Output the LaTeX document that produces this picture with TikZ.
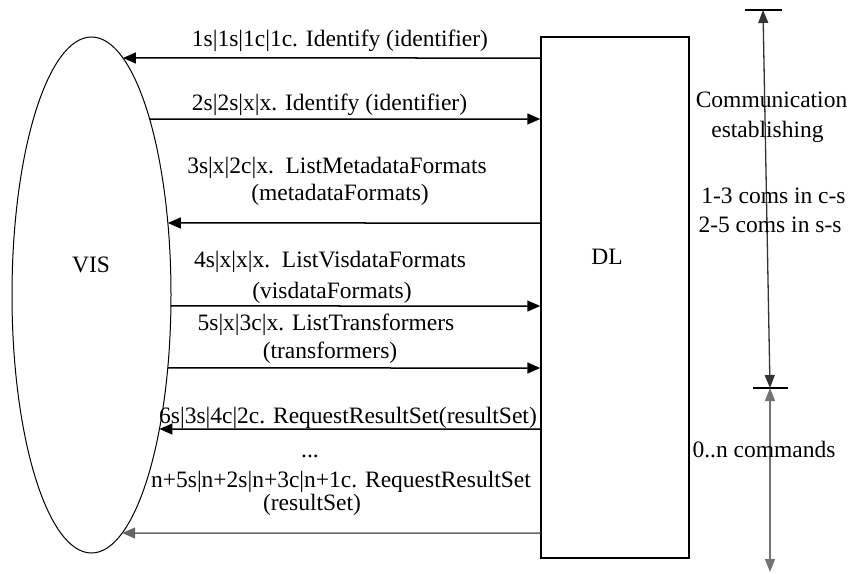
\documentclass[tikz,border=0pt]{standalone}
\usepackage{fontspec}
\setmainfont{Liberation Serif}
\usetikzlibrary{shapes.geometric,arrows.meta,intersections}

\begin{document}
\begin{tikzpicture}[x=1pt,y=-1pt,
  every node/.style={font=\fontsize{23.5}{27}\selectfont, inner sep=0pt},
  msg/.style={line width=1.5pt, -{Triangle[length=13pt,width=11pt]}},
  span/.style={line width=1.3pt, {Triangle[length=13pt,width=10pt]}-{Triangle[length=13pt,width=10pt]}},
  lbl/.style={anchor=base},
  bar/.style={line width=1.4pt}]
\useasboundingbox (0,0) rectangle (851,573);

% the two parties
\node[ellipse, draw, line width=1pt, minimum width=159pt, minimum height=516pt,
      name path=visborder] (vis) at (91.5,295) {};
\node[lbl] (vistext) at (91,272) {VIS};
\node[draw, line width=1.5pt, minimum width=148pt, minimum height=521pt] (dl) at (615,297.5) {};
\node[lbl] (dltext) at (607,264) {DL};

% message levels
\foreach \i/\y in {1/58,2/119,3/223,4/306,5/368,6/429,7/533}{
  \coordinate (y\i) at (0,\y);
  \path[name path=h\i] (vis.center |- y\i) -- (dl.west |- y\i);
  \path[name intersections={of=visborder and h\i, by=e\i}];
  \coordinate (d\i) at (dl.west |- y\i);
}

% messages
\draw[msg] (d1) -- (e1);
\draw[msg] (e2) -- (d2);
\draw[msg] (d3) -- (e3);
\draw[msg] (e4) -- (d4);
\draw[msg] (e5) -- (d5);
\draw[msg] (d6) -- (e6);
\draw[msg, draw=black!60] (d7) -- (e7);

% message labels
\node[lbl] (m1) at (340,46) {1s|1s|1c|1c. Identify (identifier)};
\node[lbl] (m2) at (329.5,110) {2s|2s|x|x. Identify (identifier)};
\node[lbl] (m3a) at (337,173) {3s|x|2c|x.\ \ ListMetadataFormats};
\node[lbl] (m3b) at (340,200) {(metadataFormats)};
\node[lbl] (m4a) at (330,267) {4s|x|x|x.\ \ ListVisdataFormats};
\node[lbl] (m4b) at (332,298) {(visdataFormats)};
\node[lbl] (m5a) at (326,330) {5s|x|3c|x. ListTransformers};
\node[lbl] (m5b) at (330,358) {(transformers)};
\node[lbl] (m6) at (348,423) {6s|3s|4c|2c. RequestResultSet(resultSet)};
\node[lbl] (dots) at (310,457) {...};
\node[lbl] (m7a) at (341,487) {n+5s|n+2s|n+3c|n+1c. RequestResultSet};
\node[lbl] (m7b) at (312,510) {(resultSet)};

% phase spans on the right
\coordinate (ctop) at (763,10);
\coordinate (cmid) at (770,388);
\coordinate (cbot) at (770,572);
\draw[bar] (745,10) -- (782,10);
\draw[bar] (753,388) -- (788,388);
\draw[span, draw=black!80] (ctop) -- (cmid);
\draw[span, draw=black!55] (cmid) -- (cbot);

\node[lbl] (p1a) at (771.5,107) {Communication};
\node[lbl] (p1b) at (767.5,137) {establishing};
\node[lbl] (p1c) at (773.5,203) {1-3 coms in c-s};
\node[lbl] (p1d) at (770,232) {2-5 coms in s-s};
\node[lbl] (p2) at (764,457) {0..n commands};
\end{tikzpicture}
\end{document}
